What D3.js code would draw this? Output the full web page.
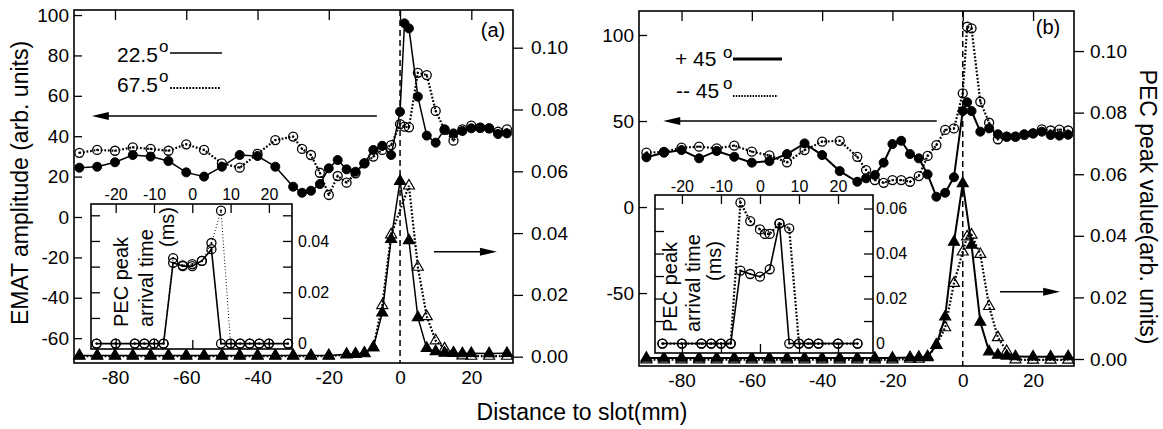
<!DOCTYPE html>
<html>
<head>
<meta charset="utf-8">
<script src="https://cdn.jsdelivr.net/npm/d3@7"></script>
<style>
  body { margin: 0; background: #fff; }
  svg { display: block; font-family: "Liberation Sans", Arial, Helvetica, sans-serif; }
  .axis path { display: none; }
  .axis line { stroke: #000; stroke-width: 1.3; }
  .axis text { font-size: 19px; fill: #000; font-family: "Liberation Sans", Arial, sans-serif; }
  .inset text { font-size: 16px; }
</style>
</head>
<body>
<div class="graph-container"></div>
<script>
// ---------- data ----------
// EMAT amplitude, distance to slot (mm)
var xCirc = [-90,-85,-80,-75,-70,-65,-60,-55,-50,-45,-40,-35,-30,-27.5,-25,-22.5,-20,-17.5,-15,-12.5,-10,-7.5,-5,-2.5,0,1.25,2.5,5,7.5,10,12.5,15,17.5,20,22.5,25,27.5,30]
var emat225 = [24.4,24.9,27.1,30.7,29.9,27.7,22.1,20,24.9,30.7,30.2,24.9,15,12,13,16.3,24.1,28.2,23.6,22.4,26.6,33.2,35.3,30.7,52.1,95.9,93.4,59.6,40.3,36.8,43.4,41.4,42.6,43.9,44.2,43.9,41.1,41.4]
var emat675 = [31.8,33.2,32.8,34.5,33.7,32.8,36,33.2,26.6,24.4,31.3,38.1,39.8,33.7,30.7,21.9,10.9,20.3,17,21.6,26.6,29.9,33.2,35.6,46,44.7,44.4,71.4,70.3,52.5,43.1,37.8,43.4,45.2,44.2,43.9,42.2,43.4]
var emat45p = [28.9,31.6,33.1,28.3,32.6,29.2,25.8,26.7,30.8,37,30.2,20.9,14.7,16.7,18.6,25.8,36.6,38.5,30.8,28.3,19,6,8.3,17.3,55.8,60.9,55.8,43.8,45.7,42.3,40.9,40.9,42.3,42.8,43.8,41.9,41.5,42]
var emat45m = [31.6,32,34.5,35.1,34.1,35.7,32.2,30,26,33.1,38,38.5,29.2,21.5,15.7,14.1,15.7,15.7,14.7,18,29.7,36,44.8,45.7,66.1,104.8,103.9,61.2,49,39.4,40.9,40.9,41.9,42.8,45.2,44.5,45,44.5]

// PEC peak value
var xTri = [-90,-85,-80,-75,-70,-65,-60,-55,-50,-45,-40,-35,-30,-25,-20,-15,-12.5,-10,-7.5,-5,-2.5,0,1.25,2.5,5,7.5,10,12.5,15,17.5,20,25,30]
var pec225 = [0.0004,0.0004,0.0004,0.0004,0.0004,0.0004,0.0004,0.0004,0.0004,0.0004,0.0004,0.0004,0.0004,0.0004,0.0004,0.0008,0.0009,0.0012,0.003,0.0142,0.038,0.0568,null,0.0376,0.0127,0.0027,0.0017,0.0012,0.0011,0.001,0.0011,0.001,0.0011]
var pec675 = [0.0002,0.0002,0.0002,0.0002,0.0002,0.0002,0.0002,0.0002,0.0002,0.0002,0.0002,0.0002,0.0002,0.0002,0.0002,0.0006,0.0008,0.001,0.003,0.0166,0.0395,null,null,0.0553,0.029,0.013,0.0052,0.0026,0.0012,0.0003,0.0002,0.0002,0.0002]
var pec45p = [0.0003,0.0003,0.0003,0.0003,0.0003,0.0003,0.0003,0.0003,0.0003,0.0003,0.0003,0.0003,0.0003,0.0003,0.0003,0.0005,0.0006,0.0008,0.0045,0.0137,0.038,0.057,null,0.037,0.012,0.0024,0.0013,0.001,0.0008,null,0.0007,0.0007,0.0008]
var pec45m = [-0.0002,-0.0002,-0.0002,-0.0002,-0.0002,-0.0002,-0.0002,-0.0002,-0.0002,-0.0002,-0.0002,-0.0002,-0.0002,-0.0002,-0.0002,0,0,0.0005,0.0045,0.0102,0.0246,0.0348,0.0397,0.0403,0.034,0.0171,0.007,0.0025,-0.0002,null,-0.0003,-0.0003,-0.0003]

// insets: PEC peak arrival time (ms)
var xInset = [-25,-20,-15,-12.5,-10,-7.5,-5,-2.5,0,1.25,2.5,5,7.5,10,12.5,15,17.5,20,25]
var arr225 = [0,0,0,0,0,0,0.0315,0.0302,0.0302,null,0.0322,0.0368,0,0,0,0,0,0,0]
var arr675 = [0,0,0,0,0,0,0.0333,0.0305,0.031,null,0.0322,0.0392,0.0518,0,0,0,0,0,0]
var arr45p = [0,0,0,0,0,0,0.0324,0.0309,0.0297,null,0.033,0.0534,0,0,0,0,null,0,0]
var arr45m = [0,0,0,0,0,0,0.0626,0.0544,0.0507,0.0487,0.0487,0.0534,0.0512,0,0,0,null,0,0]

// tick values
var xTicks = [-80,-60,-40,-20,0,20]
var yTicksA = [-60,-40,-20,0,20,40,60,80,100]
var yTicksB = [-50,0,50,100]
var pecTicks = [0,0.02,0.04,0.06,0.08,0.10]
var insetXTicks = [-20,-10,0,10,20]
var insetYTicksA = [0.01,0.02,0.03,0.04,0.05]
var insetYLabelsA = [0,0.02,0.04]
var insetYTicksB = [0.01,0.02,0.03,0.04,0.05,0.06]
var insetYLabelsB = [0,0.02,0.04,0.06]

// ---------- svg ----------
var svg = d3.select(".graph-container").append("svg")
    .attr("width", 1163)
    .attr("height", 429)

function zip(xs, vs) {
  return xs.map((x, i) => ({x: x, v: vs[i]})).filter(d => d.v != null)
}

function circles(g, data, x, y, open) {
  g.selectAll(null).data(data).enter().append("circle")
    .attr("cx", d => x(d.x)).attr("cy", d => y(d.v)).attr("r", 4.5)
    .attr("fill", open ? "none" : "#000")
    .attr("stroke", "#000").attr("stroke-width", open ? 1.3 : 1)
  if (open) {
    g.selectAll(null).data(data).enter().append("circle")
      .attr("cx", d => x(d.x)).attr("cy", d => y(d.v)).attr("r", 1.1)
      .attr("fill", "#000")
  }
}

function triangles(g, data, x, y, open) {
  g.selectAll(null).data(data).enter().append("path")
    .attr("d", d3.symbol(d3.symbolTriangle, 52))
    .attr("transform", d => "translate(" + x(d.x) + "," + y(d.v) + ")")
    .attr("fill", open ? "none" : "#000")
    .attr("stroke", "#000").attr("stroke-width", 1.2)
}

function drawLine(g, data, x, y, dash, w) {
  g.append("path").datum(data)
    .attr("fill", "none").attr("stroke", "#000")
    .attr("stroke-width", w)
    .attr("stroke-dasharray", dash)
    .attr("d", d3.line().x(d => x(d.x)).y(d => y(d.v)))
}

function arrow(g, x1, x2, y) {
  var dir = x2 < x1 ? -1 : 1
  g.append("line").attr("x1", x1).attr("x2", x2 - dir * 14).attr("y1", y).attr("y2", y)
    .attr("stroke", "#000").attr("stroke-width", 1.5)
  g.append("path")
    .attr("d", "M" + x2 + "," + y + "L" + (x2 - dir * 17) + "," + (y - 4) + "L" + (x2 - dir * 17) + "," + (y + 4) + "Z")
    .attr("fill", "#000")
}

function mainPanel(o) {
  var x = d3.scaleLinear().domain(o.xDom).range([o.left, o.right])
  var y = d3.scaleLinear().domain(o.yDom).range([o.bottom, o.top])
  var y2 = d3.scaleLinear().domain(o.y2Dom).range([o.bottom, o.top])
  var g = svg.append("g")

  // axes
  g.append("g").attr("class", "axis")
    .attr("transform", "translate(" + o.left + ",0)")
    .call(d3.axisLeft(y).tickValues(o.yTicks).tickSize(-8).tickPadding(5).tickFormat(d => String(d)))
  g.append("g").attr("class", "axis")
    .attr("transform", "translate(0," + o.top + ")")
    .call(d3.axisTop(x).tickValues(xTicks).tickSize(-10).tickFormat(""))
  g.append("g").attr("class", "axis")
    .attr("transform", "translate(0," + o.bottom + ")")
    .call(d3.axisBottom(x).tickValues(xTicks).tickSize(0).tickPadding(8).tickFormat(d => String(d)))
  g.append("g").attr("class", "axis")
    .attr("transform", "translate(" + o.right + ",0)")
    .call(d3.axisRight(y2).tickValues(pecTicks).tickSize(10).tickPadding(o.rPad).tickFormat(d3.format(".2f")))

  g.append("rect")
    .attr("x", o.left).attr("y", o.top)
    .attr("width", o.right - o.left).attr("height", o.bottom - o.top)
    .attr("fill", "none").attr("stroke", "#000").attr("stroke-width", 1.6)

  // slot position
  g.append("line")
    .attr("x1", x(0)).attr("x2", x(0)).attr("y1", o.top).attr("y2", o.bottom)
    .attr("stroke", "#000").attr("stroke-width", 1.5).attr("stroke-dasharray", "6,4")

  var sFill = zip(xCirc, o.ematSolid), sOpen = zip(xCirc, o.ematDot)
  var tFill = zip(xTri, o.pecSolid), tOpen = zip(xTri, o.pecDot)
  drawLine(g, sOpen, x, y, "1.8,1.8", 2.2)
  drawLine(g, sFill, x, y, null, o.lw)
  drawLine(g, tOpen, x, y2, "1.8,1.8", 2.2)
  drawLine(g, tFill, x, y2, null, o.lw)
  circles(g, sOpen, x, y, true)
  circles(g, sFill, x, y, false)
  triangles(g, tOpen, x, y2, true)
  triangles(g, tFill, x, y2, false)

  // arrows
  arrow(g, x(o.arrL[0]), x(o.arrL[1]), y(o.arrL[2]))
  arrow(g, x(o.arrR[0]), x(o.arrR[1]), y2(o.arrR[2]))

  g.append("text").attr("x", o.tagX).attr("y", o.tagY)
    .attr("text-anchor", "middle").style("font-size", "20px").text(o.tag)
  return g
}

function insetPanel(o) {
  var x = d3.scaleLinear().domain(o.xDom).range([o.left, o.right])
  var y = d3.scaleLinear().domain(o.yDom).range([o.bottom, o.top])
  var g = svg.append("g")
  g.append("rect")
    .attr("x", o.left).attr("y", o.top)
    .attr("width", o.right - o.left).attr("height", o.bottom - o.top)
    .attr("fill", "#fff").attr("stroke", "#000").attr("stroke-width", 1.6)

  g.append("g").attr("class", "axis inset")
    .attr("transform", "translate(0," + o.top + ")")
    .call(d3.axisTop(x).tickValues(insetXTicks).tickSize(-9).tickFormat(""))
  g.append("g").attr("class", "axis inset")
    .attr("transform", "translate(0," + o.top + ")")
    .call(d3.axisTop(x).tickValues(insetXTicks).tickSize(0).tickPadding(o.topPad).tickFormat(d => String(d)))
  g.append("g").attr("class", "axis inset")
    .attr("transform", "translate(0," + o.bottom + ")")
    .call(d3.axisBottom(x).tickValues(insetXTicks).tickSize(-9).tickFormat(""))
  g.append("g").attr("class", "axis inset")
    .attr("transform", "translate(" + o.left + ",0)")
    .call(d3.axisLeft(y).tickValues(o.yTicks).tickSize(-9).tickFormat(""))
  g.append("g").attr("class", "axis inset")
    .attr("transform", "translate(" + o.right + ",0)")
    .call(d3.axisRight(y).tickValues(o.yTicks).tickSize(-9).tickFormat(""))
  g.append("g").attr("class", "axis inset")
    .attr("transform", "translate(" + o.right + ",0)")
    .call(d3.axisRight(y).tickValues(o.yLabels).tickSize(0).tickPadding(o.rPad)
      .tickFormat(d => d === 0 ? "0" : d3.format(".2f")(d)))

  var s = zip(xInset, o.solid), d = zip(xInset, o.dot)
  drawLine(g, d, x, y, o.dotDash, o.dotW)
  drawLine(g, s, x, y, null, 1.6)
  circles(g, d, x, y, true)
  circles(g, s, x, y, true)

  // rotated title
  o.title.forEach(t => {
    g.append("text")
      .attr("transform", "translate(" + t[0] + "," + t[1] + ") rotate(-90)")
      .style("font-size", "20px").text(t[2])
  })
}

// ---------- panel (a) ----------
mainPanel({
  left: 74, right: 513, top: 10, bottom: 363,
  xDom: [-91.5, 31.7], yDom: [-72.3, 102.5], y2Dom: [-0.00204, 0.1122],
  yTicks: yTicksA, rPad: 8, lw: 1.5,
  ematSolid: emat225, ematDot: emat675, pecSolid: pec225, pecDot: pec675,
  arrL: [-6.5, -86.5, 50], arrR: [9.5, 27.2, 0.034],
  tag: "(a)", tagX: 493, tagY: 37
})
insetPanel({
  left: 91, right: 292, top: 204, bottom: 349,
  xDom: [-26.44, 26.03], yDom: [-0.0021, 0.0544],
  yTicks: insetYTicksA, yLabels: insetYLabelsA, topPad: 4, rPad: 6,
  solid: arr225, dot: arr675, dotDash: "1,2.2", dotW: 1,
  title: [[128, 327, "PEC peak"], [153, 327, "arrival time"], [174, 247, "(ms)"]]
})

// ---------- panel (b) ----------
mainPanel({
  left: 639, right: 1074, top: 11, bottom: 366,
  xDom: [-92.1, 31.65], yDom: [-92.4, 113.95], y2Dom: [-0.00227, 0.1130],
  yTicks: yTicksB, rPad: 6, lw: 2,
  ematSolid: emat45p, ematDot: emat45m, pecSolid: pec45p, pecDot: pec45m,
  arrL: [-7.4, -85.2, 50], arrR: [10.6, 27.7, 0.0218],
  tag: "(b)", tagX: 1048, tagY: 34
})
insetPanel({
  left: 655, right: 873, top: 195, bottom: 353,
  xDom: [-26.9, 28.97], yDom: [-0.0042, 0.066],
  yTicks: insetYTicksB, yLabels: insetYLabelsB, topPad: 3, rPad: 3,
  solid: arr45p, dot: arr45m, dotDash: "1.8,1.8", dotW: 2.2,
  title: [[677, 332, "PEC peak"], [700, 332, "arrival time"], [721, 281, "(ms)"]]
})

// ---------- legends ----------
function legendRow(parts, lx1, lx2, ly, dash, w) {
  parts.forEach(p => {
    svg.append("text").attr("x", p[0]).attr("y", p[1])
      .style("font-size", p[3] + "px").text(p[2])
  })
  svg.append("line").attr("x1", lx1).attr("x2", lx2).attr("y1", ly).attr("y2", ly)
    .attr("stroke", "#000").attr("stroke-width", w).attr("stroke-dasharray", dash)
}
legendRow([[117, 62, "22.5", 21], [159, 52, "o", 17]], 170, 222, 53, null, 1.5)
legendRow([[117, 92, "67.5", 21], [159, 82, "o", 17]], 170, 220, 88, "1.8,1.4", 2)
legendRow([[675, 66, "+ 45", 21], [723, 58, "o", 17]], 733, 782, 59, null, 3)
legendRow([[676, 98, "-- 45", 21], [723, 89, "o", 17]], 733, 778, 96, "1.5,1.3", 2)

// ---------- axis titles ----------
svg.append("text")
  .attr("transform", "translate(28,183) rotate(-90)")
  .attr("text-anchor", "middle").style("font-size", "23px")
  .text("EMAT amplitude (arb. units)")
svg.append("text")
  .attr("x", 582).attr("y", 420)
  .attr("text-anchor", "middle").style("font-size", "23px")
  .text("Distance to slot(mm)")
svg.append("text")
  .attr("transform", "translate(1140,207) rotate(90)")
  .attr("text-anchor", "middle").style("font-size", "23px")
  .text("PEC peak value(arb. units)")
</script>
</body>
</html>
